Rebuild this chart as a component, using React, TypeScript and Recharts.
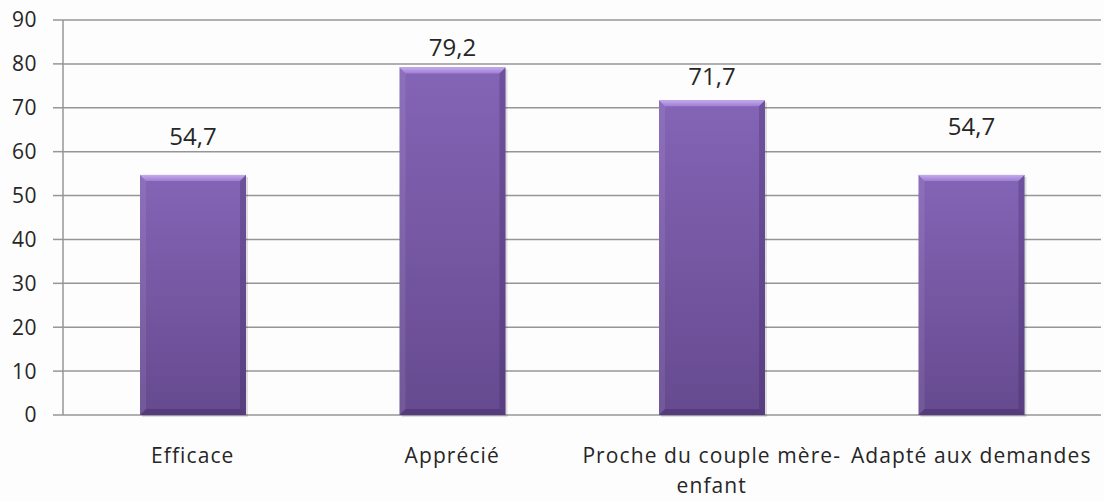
import { BarChart, Bar, XAxis, YAxis, CartesianGrid, LabelList } from "recharts";

const categories = ["Efficace", "Apprécié", "Proche du couple mère-enfant", "Adapté aux demandes"];
const values = [54.7, 79.2, 71.7, 54.7];
const yTicks = [0, 10, 20, 30, 40, 50, 60, 70, 80, 90];
const slotTicks = [0, 1, 2, 3, 4];

// how far above each bar top its value label sits (labels were placed by hand in the original)
const labelLift = [38, 20, 24, 48];

const data = categories.map((name, i) => ({ name, value: values[i] }));

const FONT = "'Open Sans', 'Liberation Sans', sans-serif";
const TEXT = "#262626";
const GRID = "#969696";
const SIZE = 21;
const SPACING = 1.1;

function BevelBar(props: any) {
  const { x, y, width: w, height: h } = props;
  if (!h || h <= 0) return null;
  const b = 6;
  return (
    <g>
      <rect x={x + 2} y={y + 2} width={w} height={h} fill="#000" opacity={0.12} />
      <rect x={x} y={y} width={w} height={h} fill="url(#barFill)" />
      <polygon
        points={`${x},${y} ${x + w},${y} ${x + w - b},${y + b} ${x + b},${y + b}`}
        fill="url(#topBevel)"
      />
      <polygon
        points={`${x},${y} ${x + b},${y + b} ${x + b},${y + h - b} ${x},${y + h}`}
        fill="#ffffff"
        opacity={0.08}
      />
      <polygon
        points={`${x + w},${y} ${x + w},${y + h} ${x + w - b},${y + h - b} ${x + w - b},${y + b}`}
        fill="#2e1a52"
        opacity={0.25}
      />
      <polygon
        points={`${x},${y + h} ${x + w},${y + h} ${x + w - b},${y + h - b} ${x + b},${y + h - b}`}
        fill="#2e1a52"
        opacity={0.3}
      />
    </g>
  );
}

function CategoryTick(props: any) {
  const { x, y, payload } = props;
  const lines: string[] = String(payload.value).split(/(?<=-)/);
  return (
    <g transform={`translate(${x},${y})`}>
      {lines.map((line, i) => (
        <text
          key={i}
          x={0}
          y={40 + i * 30}
          textAnchor="middle"
          fill={TEXT}
          fontFamily={FONT}
          fontSize={SIZE}
          letterSpacing={SPACING}
        >
          {line}
        </text>
      ))}
    </g>
  );
}

const fmt = (v: any) => (typeof v === "number" ? v.toFixed(1).replace(".", ",") : v);

function ValueLabel(props: any) {
  const { x, y, width, value, index } = props;
  const lift = labelLift[index] ?? 30;
  return (
    <text
      x={x + width / 2}
      y={y - lift + 8.5}
      textAnchor="middle"
      fill={TEXT}
      fontFamily={FONT}
      fontSize={24}
    >
      {fmt(value)}
    </text>
  );
}

export default function App() {
  return (
    <div style={{ position: "absolute", left: 0, top: 0, width: 1104, height: 502, background: "#fdfdfd" }}>
      <BarChart
        width={1104}
        height={502}
        data={data}
        margin={{ top: 20, right: 3, bottom: 0, left: 0 }}
      >
        <defs>
          <linearGradient id="barFill" x1="0" y1="0" x2="0" y2="1">
            <stop offset="0%" stopColor="#8464b6" />
            <stop offset="100%" stopColor="#664a8f" />
          </linearGradient>
          <linearGradient id="topBevel" x1="0" y1="0" x2="0" y2="1">
            <stop offset="0%" stopColor="#c6aaf0" />
            <stop offset="100%" stopColor="#9d7fd0" />
          </linearGradient>
        </defs>
        <CartesianGrid vertical={false} stroke={GRID} strokeWidth={1.5} />
        <XAxis
          xAxisId="slots"
          type="number"
          domain={[0, 4]}
          ticks={slotTicks}
          height={0}
          axisLine={{ stroke: GRID, strokeWidth: 1.5 }}
          tickLine={{ stroke: GRID, strokeWidth: 1.5 }}
          tickSize={8}
          tick={() => <g />}
        />
        <XAxis
          xAxisId="cat"
          dataKey="name"
          height={87}
          axisLine={false}
          tickLine={false}
          interval={0}
          tick={<CategoryTick />}
        />
        <YAxis
          domain={[0, 90]}
          ticks={yTicks}
          width={63}
          interval={0}
          axisLine={{ stroke: GRID, strokeWidth: 1.5 }}
          tickLine={{ stroke: GRID, strokeWidth: 1.5 }}
          tickSize={10}
          tickMargin={16}
          tick={{ fill: TEXT, fontSize: SIZE, fontFamily: FONT, letterSpacing: 0.5 }}
        />
        <Bar
          xAxisId="cat"
          dataKey="value"
          barSize={106}
          shape={<BevelBar />}
          isAnimationActive={false}
        >
          <LabelList dataKey="value" content={<ValueLabel />} />
        </Bar>
      </BarChart>
    </div>
  );
}
